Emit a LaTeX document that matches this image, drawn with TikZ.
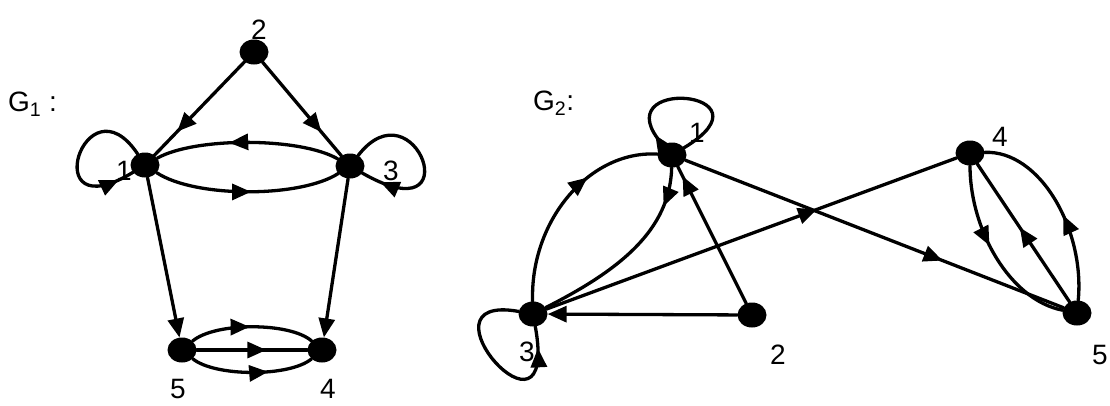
\documentclass[tikz,border=0pt]{standalone}
\usepackage{fontspec}
\setmainfont{Liberation Sans}
\usetikzlibrary{arrows.meta,decorations.markings,shapes.geometric}

\tikzset{
  vtx/.style={ellipse, fill=black, minimum width=29pt, minimum height=25pt, inner sep=0pt},
  lbl/.style={font=\fontsize{28}{32}\selectfont, inner sep=0pt},
  ln/.style={line width=3.3pt, line cap=round},
  tipat/.style={postaction={decorate},
    decoration={markings, mark=at position #1 with {\arrow{Triangle[length=19pt,width=16pt]}}}},
  endtip/.style={-{Triangle[length=19pt,width=16pt]}}
}

\begin{document}
\begin{tikzpicture}[x=1pt,y=1pt]
\useasboundingbox (0,0) rectangle (1110,-405);

% ---------- first digraph ----------
\node[lbl, anchor=west] (g1) at (8,-104) {G\textsubscript{1} :};
\node[lbl] (la2) at (259,-30) {2};
\node[lbl] (la1) at (124,-171) {1};
\node[lbl] (la3) at (391,-171) {3};
\node[lbl] (la5) at (178,-389) {5};
\node[lbl] (la4) at (328,-389) {4};

\node[vtx] (a2) at (254,-52) {};
\node[vtx] (a1) at (145,-165) {};
\node[vtx] (a3) at (350,-166) {};
\node[vtx] (a5) at (182,-350) {};
\node[vtx] (a4) at (322,-350) {};

\draw[ln, tipat=0.75] (a2) -- (a1);
\draw[ln, tipat=0.75] (a2) -- (a3);
\draw[ln, endtip] (a1) -- (a5);
\draw[ln, endtip] (a3) -- (a4);
\draw[ln, tipat=0.6] (a3) .. controls (300,-137) and (195,-137) .. (a1);
\draw[ln, tipat=0.52] (a1) .. controls (195,-198) and (300,-198) .. (a3);
\draw[ln, tipat=0.9] (a1) .. controls (85,-75) and (35,-232) .. (a1);
\draw[ln, tipat=0.88] (a3) .. controls (415,-82) and (472,-236) .. (a3);
\draw[ln, tipat=0.63] (a5) -- (a4);
\draw[ln, tipat=0.48] (a5) .. controls (215,-322) and (290,-322) .. (a4);
\draw[ln, tipat=0.63] (a5) .. controls (215,-377) and (290,-377) .. (a4);

% ---------- second digraph ----------
\node[lbl, anchor=west] (g2) at (533,-103) {G\textsubscript{2}:};
\node[lbl] (lb1) at (697,-133) {1};
\node[lbl] (lb3) at (527,-352) {3};
\node[lbl] (lb2) at (778,-355) {2};
\node[lbl] (lb4) at (1000,-137) {4};
\node[lbl] (lb5) at (1100,-355) {5};

\node[vtx] (b1) at (672,-155) {};
\node[vtx] (b3) at (533,-314) {};
\node[vtx] (b2) at (752,-315) {};
\node[vtx] (b4) at (970,-153) {};
\node[vtx] (b5) at (1077,-313) {};

\draw[ln, tipat=0.08] (b1) .. controls (600,-75) and (780,-90) .. (b1);
\draw[ln, tipat=0.65] (b3) .. controls (530,-220) and (590,-150) .. (b1);
\draw[ln, tipat=0.2] (b1) .. controls (670,-230) and (620,-270) .. (b3);
\draw[ln, tipat=0.93] (b2) -- (b1);
\draw[ln, endtip] (b2) -- (b3);
\draw[ln, tipat=0.66] (b3) -- (b4);
\draw[ln, tipat=0.68] (b1) -- (b5);
\draw[ln, tipat=0.45] (b4) .. controls (970,-230) and (1010,-300) .. (b5);
\draw[ln, tipat=0.54] (b5) -- (b4);
\draw[ln, tipat=0.45] (b5) .. controls (1085,-230) and (1040,-150) .. (b4);
\draw[ln, tipat=0.88] (b3) .. controls (410,-292) and (560,-462) .. (b3);
\end{tikzpicture}
\end{document}
